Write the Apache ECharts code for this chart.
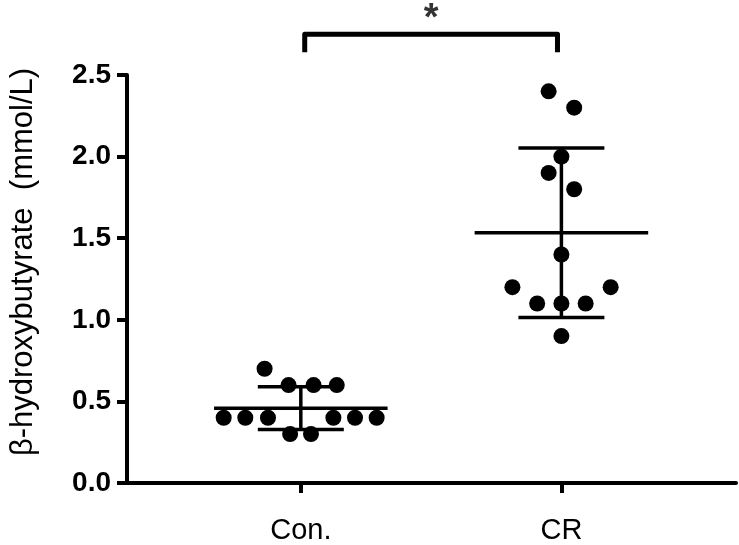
<!DOCTYPE html>
<html>
<head>
<meta charset="utf-8">
<script src="https://cdn.jsdelivr.net/npm/echarts@6/dist/echarts.min.js"></script>
<style>
  html, body { margin: 0; padding: 0; background: #fff; }
  #chart { width: 739px; height: 545px; }
</style>
</head>
<body>
<div id="chart"></div>
<script>
// group names and where they sit on the (hidden) numeric x scale
const groups = ['Con.', 'CR'];
const groupX = [1, 2];

// individual values, with their horizontal scatter offsets
const conValues = [0.7, 0.6, 0.6, 0.6, 0.4, 0.4, 0.4, 0.4, 0.4, 0.4, 0.3, 0.3];
const conJitter = [-0.139, -0.047, 0.049, 0.138, -0.296, -0.213, -0.126, 0.125, 0.208, 0.291, -0.041, 0.039];
const crValues = [2.4, 2.3, 2.0, 1.9, 1.8, 1.4, 1.2, 1.2, 1.1, 1.1, 1.1, 0.9];
const crJitter = [-0.049, 0.049, 0, -0.049, 0.049, 0, -0.188, 0.189, -0.093, 0, 0.093, 0];

// significance bracket between the groups
const sigLabel = '*';
const bracketTop = 2.75;
const bracketFoot = 2.64;

const FONT = '"Liberation Sans", Arial, Helvetica, sans-serif';

const mean = arr => arr.reduce((a, b) => a + b, 0) / arr.length;
const sd = arr => {
  const m = mean(arr);
  return Math.sqrt(arr.reduce((a, b) => a + (b - m) * (b - m), 0) / (arr.length - 1));
};

const summary = [
  [groupX[0], mean(conValues), sd(conValues)],
  [groupX[1], mean(crValues), sd(crValues)]
];

const toPoints = (vals, jit, gx) => vals.map((v, i) => [gx + jit[i], v]);

const chart = echarts.init(document.getElementById('chart'), null, { renderer: 'canvas' });

const option = {
  backgroundColor: '#fff',
  animation: false,
  grid: { left: 125, right: 3, top: 75, bottom: 62, containLabel: false },
  xAxis: {
    type: 'value',
    min: 0.333,
    max: 2.67,
    splitLine: { show: false },
    axisLine: { show: true, lineStyle: { color: '#000', width: 4 } },
    axisTick: { show: true, length: 10, customValues: groupX, lineStyle: { color: '#000', width: 4 } },
    axisLabel: {
      customValues: groupX,
      margin: 33,
      color: '#000',
      fontSize: 29,
      fontFamily: FONT,
      formatter: v => groups[groupX.indexOf(Math.round(v))] || ''
    }
  },
  yAxis: {
    type: 'value',
    min: 0,
    max: 2.5,
    interval: 0.5,
    name: 'β-hydroxybutyrate  (mmol/L)',
    nameLocation: 'middle',
    nameGap: 88,
    nameRotate: 90,
    nameTextStyle: { color: '#000', fontSize: 31, fontFamily: FONT, padding: [0, 0, 0, 34] },
    splitLine: { show: false },
    axisLine: { show: true, lineStyle: { color: '#000', width: 4 } },
    axisTick: { show: true, length: 10, lineStyle: { color: '#000', width: 4 } },
    axisLabel: {
      margin: 16,
      color: '#000',
      fontSize: 28,
      fontWeight: 'bold',
      fontFamily: FONT,
      formatter: v => v.toFixed(1)
    }
  },
  series: [
    {
      // mean line with SD whiskers
      type: 'custom',
      data: summary,
      z: 2,
      renderItem: (params, api) => {
        const x = api.value(0), m = api.value(1), s = api.value(2);
        const seg = (x1, y1, x2, y2) => {
          const a = api.coord([x1, y1]);
          const b = api.coord([x2, y2]);
          return {
            type: 'line',
            shape: { x1: a[0], y1: a[1], x2: b[0], y2: b[1] },
            style: { stroke: '#000', lineWidth: 3.5 }
          };
        };
        return {
          type: 'group',
          children: [
            seg(x - 0.333, m, x + 0.333, m),
            seg(x, m - s, x, m + s),
            seg(x - 0.165, m + s, x + 0.165, m + s),
            seg(x - 0.165, m - s, x + 0.165, m - s)
          ]
        };
      }
    },
    {
      type: 'scatter',
      data: toPoints(conValues, conJitter, groupX[0]),
      symbolSize: 16,
      itemStyle: { color: '#000', opacity: 1 },
      z: 3
    },
    {
      type: 'scatter',
      data: toPoints(crValues, crJitter, groupX[1]),
      symbolSize: 16,
      itemStyle: { color: '#000', opacity: 1 },
      z: 3
    },
    {
      // significance bracket above the plot
      type: 'line',
      clip: false,
      symbol: 'none',
      data: [
        [groupX[0] + 0.015, bracketFoot],
        [groupX[0] + 0.015, bracketTop],
        [groupX[1] - 0.015, bracketTop],
        [groupX[1] - 0.015, bracketFoot]
      ],
      lineStyle: { color: '#000', width: 5, join: 'round', cap: 'butt' },
      z: 4
    },
    {
      type: 'scatter',
      clip: false,
      data: [[(groupX[0] + groupX[1]) / 2, bracketTop]],
      symbolSize: 1,
      itemStyle: { color: 'rgba(0,0,0,0)' },
      label: {
        show: true,
        position: 'top',
        distance: -5,
        formatter: sigLabel,
        color: '#000',
        fontSize: 38,
        fontWeight: 'bold',
        fontFamily: FONT
      },
      z: 4
    }
  ]
};

chart.setOption(option);
</script>
</body>
</html>
